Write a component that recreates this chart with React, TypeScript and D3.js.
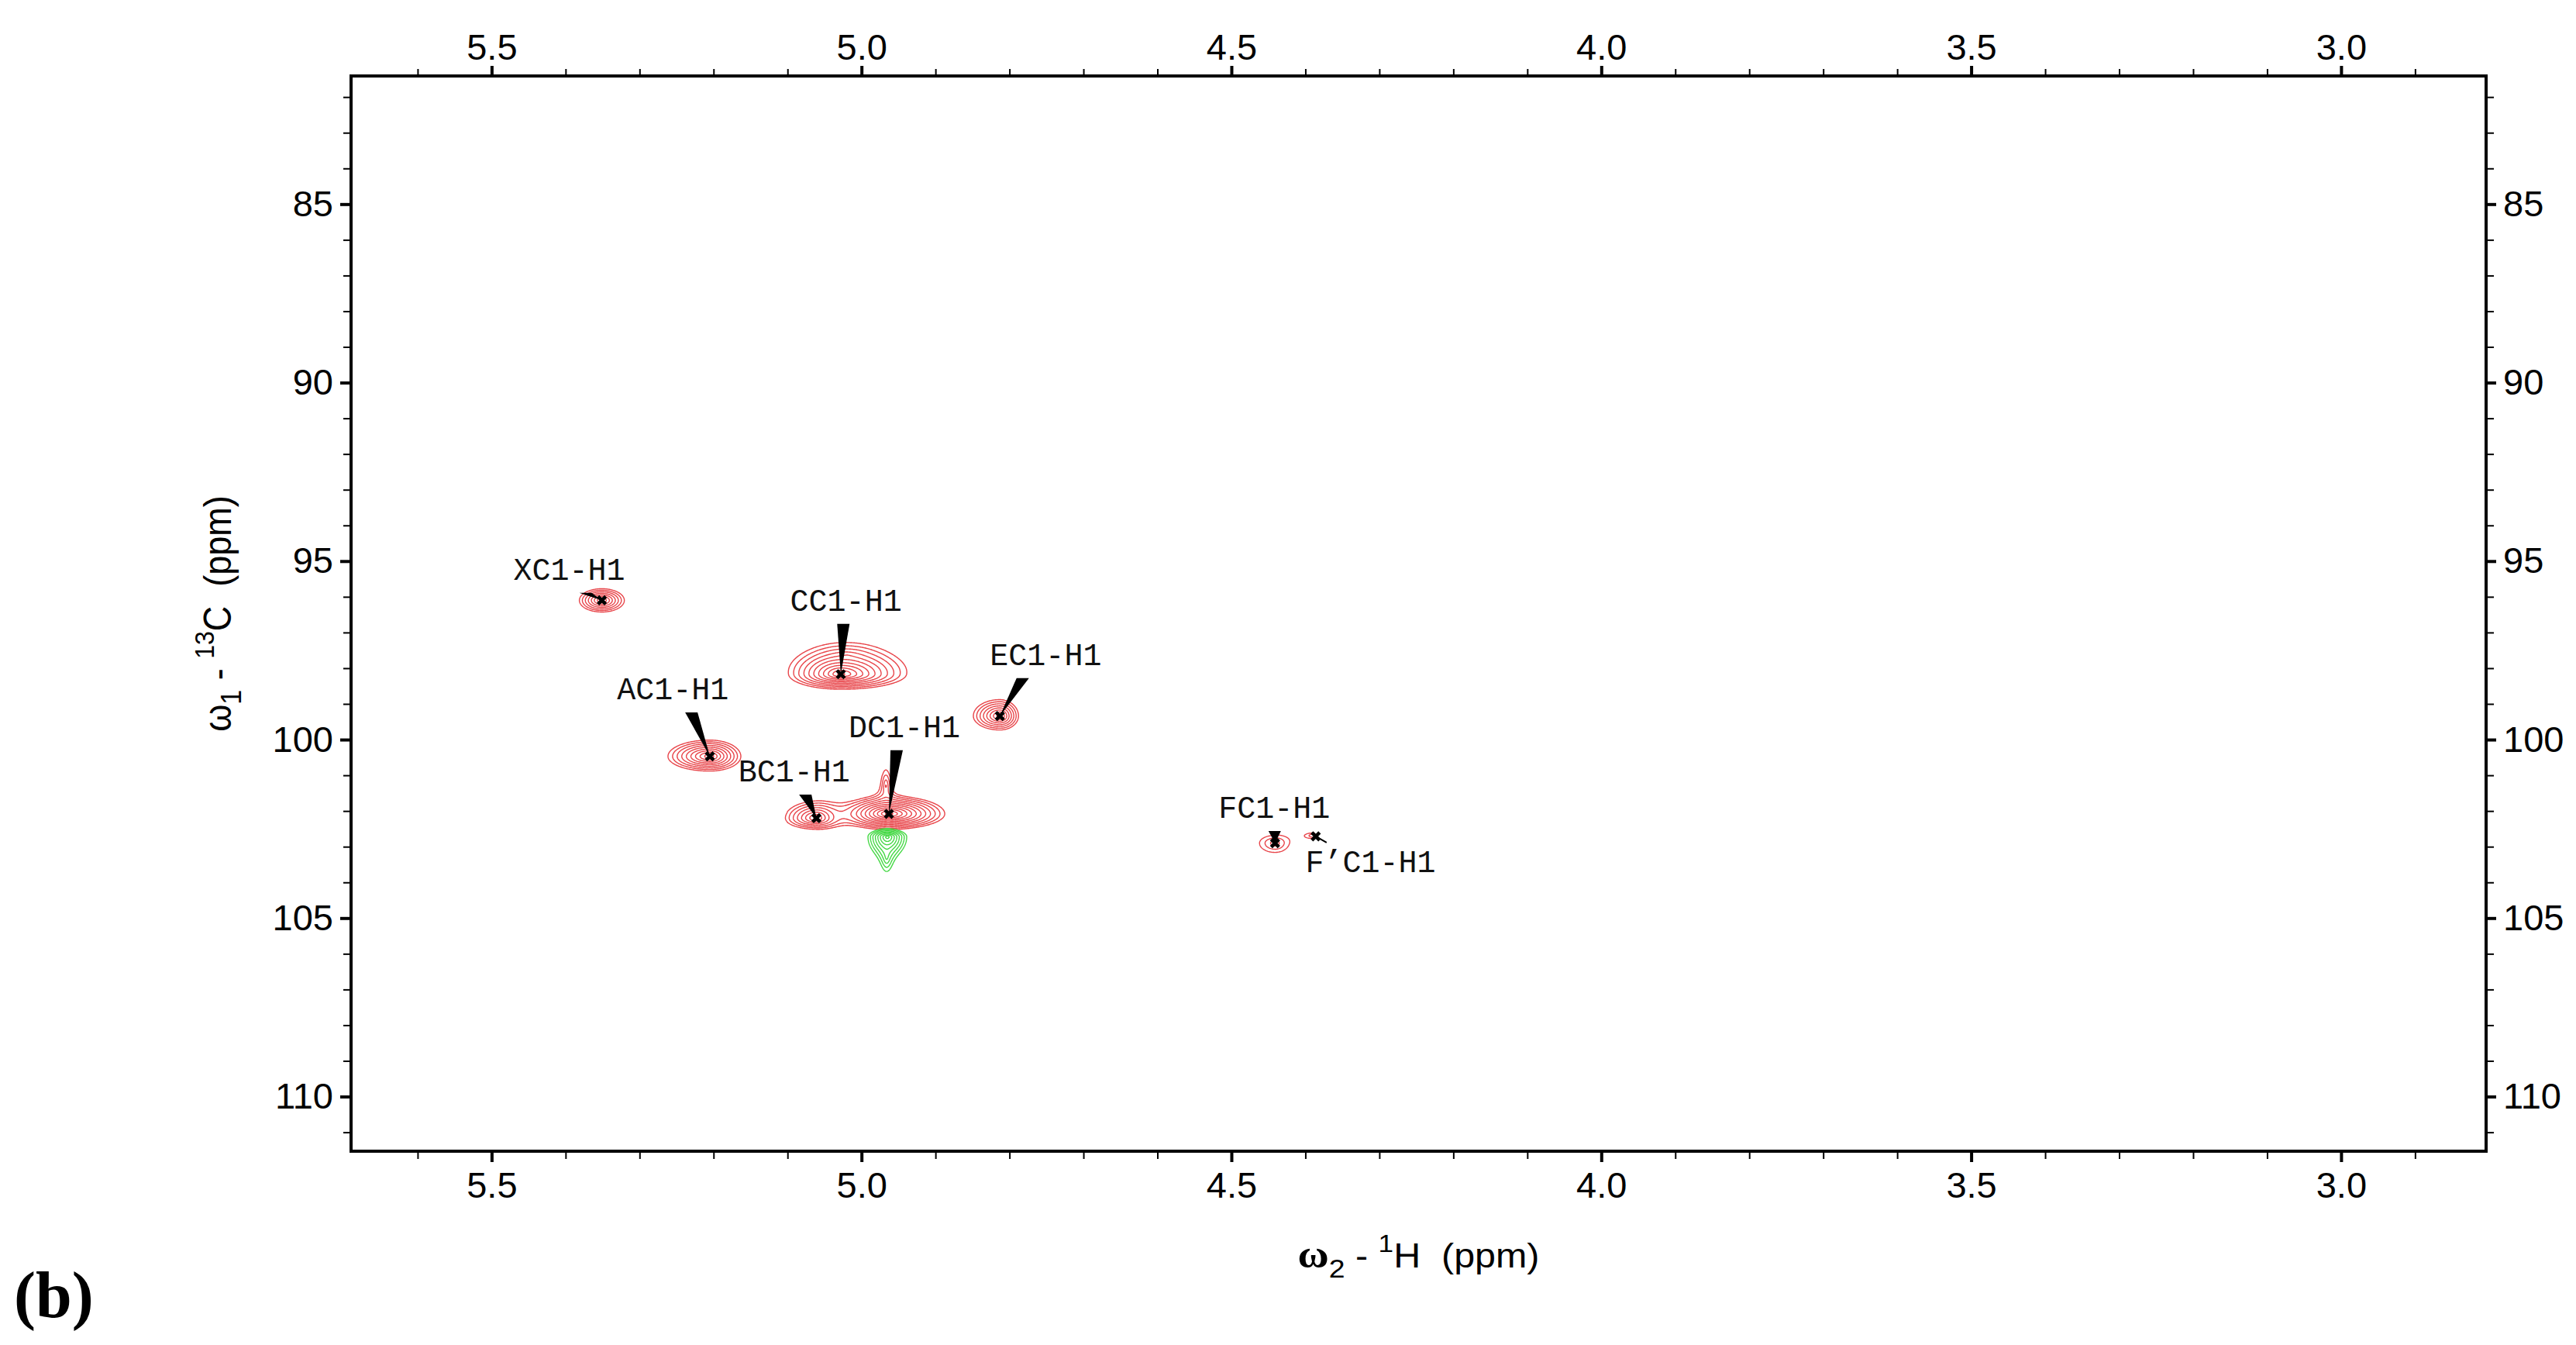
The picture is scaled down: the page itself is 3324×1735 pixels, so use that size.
import React, { useEffect, useRef } from "react";
import * as d3 from "d3";

const width = 3324;
const height = 1735;
const plot = { left: 453, right: 3208, top: 98, bottom: 1485 };

// axis ranges (ppm), 1H runs right-to-left
const protonRange = [5.69, 2.804];
const carbonRange = [81.41, 111.53];
const protonTicks = [5.5, 5.0, 4.5, 4.0, 3.5, 3.0];
const carbonTicks = [85, 90, 95, 100, 105, 110];

// assigned anomeric cross peaks
const peakLabels = ["XC1-H1", "CC1-H1", "AC1-H1", "BC1-H1", "DC1-H1", "EC1-H1", "FC1-H1", "F\u2019C1-H1"];
const peakH = [5.351, 5.028, 5.205, 5.061, 4.963, 4.813, 4.441, 4.386];
const peakC = [96.1, 98.17, 100.47, 102.2, 102.08, 99.34, 102.9, 102.71];
const labelH = [5.395, 5.021, 5.255, 5.091, 4.942, 4.751, 4.442, 4.312];
const labelC = [95.52, 96.39, 98.87, 101.17, 99.93, 97.91, 102.19, 103.71];

// positive (red) contour components: centre, height, outer-contour half widths
const redH = [5.351, 5.028, 5.205, 5.061, 4.963, 4.813, 4.441, 4.389, 4.967, 5.019];
const redC = [96.1, 98.17, 100.47, 102.2, 102.08, 99.34, 102.9, 102.69, 101.3, 97.63];
const redAmp = [7.2, 16, 11, 7.2, 22, 8, 2.1, 1.6, 2.2, 1.3];
const redWL = [0.0304, 0.065, 0.0566, 0.0419, 0.0639, 0.0356, 0.021, 0.0065, 0.0063, 0.0147];
const redWR = [0.0304, 0.0818, 0.0419, 0.0314, 0.0755, 0.0252, 0.0178, 0.002, 0.0063, 0.0147];
const redWU = [0.326, 0.651, 0.456, 0.456, 0.499, 0.456, 0.217, 0.05, 0.45, 0.13];
const redWD = [0.326, 0.391, 0.412, 0.304, 0.434, 0.391, 0.26, 0.05, 0.3, 0.13];

// negative (green) contour components
const greenH = [4.965, 4.966];
const greenC = [102.72, 103.3];
const greenAmp = [7, 1.8];
const greenWL = [0.0252, 0.0052];
const greenWR = [0.0252, 0.0052];
const greenWU = [0.195, 0.26];
const greenWD = [0.5, 0.304];

const contourLevels = [1, 1.3, 1.69, 2.2, 2.86, 3.71, 4.83, 6.27, 8.16, 10.6, 13.8, 17.9];

const grid = { h0: 5.45, h1: 4.33, c0: 95.2, c1: 104.3, nx: 1200, ny: 450 };

function buildField(hs, cs, amps, wl, wr, wu, wd) {
  const { h0, h1, c0, c1, nx, ny } = grid;
  const dh = (h0 - h1) / nx;
  const dc = (c1 - c0) / ny;
  const values = new Float64Array(nx * ny);
  hs.forEach((hc, k) => {
    const a = amps[k];
    // outer contour (level 1) sits at the given half widths
    const norm = Math.log(a);
    const sl = wl[k] / norm;
    const sr = wr[k] / norm;
    const su = wu[k] / norm;
    const sd = wd[k] / norm;
    const reach = Math.log(a / 0.03);
    const iMin = Math.max(0, Math.floor((h0 - (hc + reach * sl)) / dh));
    const iMax = Math.min(nx - 1, Math.ceil((h0 - (hc - reach * sr)) / dh));
    const jMin = Math.max(0, Math.floor((cs[k] - reach * su - c0) / dc));
    const jMax = Math.min(ny - 1, Math.ceil((cs[k] + reach * sd - c0) / dc));
    for (let j = jMin; j <= jMax; j++) {
      const dy = c0 + j * dc - cs[k];
      const ty = dy / (dy < 0 ? su : sd);
      for (let i = iMin; i <= iMax; i++) {
        const dx = h0 - i * dh - hc;
        const tx = dx / (dx > 0 ? sl : sr);
        values[j * nx + i] += a * Math.exp(-Math.sqrt(tx * tx + ty * ty));
      }
    }
  });
  return values;
}

function styleAxis(g, major) {
  g.select(".domain").remove();
  g.selectAll("line")
    .attr("stroke", "#000")
    .attr("stroke-width", major ? 4 : 2);
  g.selectAll("text")
    .attr("fill", "#000")
    .style("font-family", "'Liberation Sans', Arial, sans-serif")
    .style("font-size", "47px");
}

const App = () => {
  const ref = useRef(null);

  useEffect(() => {
    document.body.style.margin = "0";
    const svg = d3.select(ref.current);
    svg.selectAll("*").remove();

    const x = d3.scaleLinear().domain(protonRange).range([plot.left, plot.right]);
    const y = d3.scaleLinear().domain(carbonRange).range([plot.top, plot.bottom]);

    const minorH = d3
      .range(29, 57)
      .map((v) => v / 10)
      .filter((v) => !protonTicks.some((t) => Math.abs(t - v) < 1e-6));
    const minorC = d3.range(82, 112).filter((v) => v % 5 !== 0);

    // contours
    const { h0, h1, c0, c1, nx, ny } = grid;
    const dh = (h0 - h1) / nx;
    const dc = (c1 - c0) / ny;
    const proj = d3.geoTransform({
      point: function (px, py) {
        this.stream.point(x(h0 - (px - 0.5) * dh), y(c0 + (py - 0.5) * dc));
      },
    });
    const path = d3.geoPath(proj);
    const contours = d3.contours().size([nx, ny]).thresholds(contourLevels);

    const redField = buildField(redH, redC, redAmp, redWL, redWR, redWU, redWD);
    svg
      .append("g")
      .selectAll("path")
      .data(contours(redField))
      .enter()
      .append("path")
      .attr("d", path)
      .attr("fill", "none")
      .attr("stroke", "#e8454a")
      .attr("stroke-width", 1.4);

    const greenField = buildField(greenH, greenC, greenAmp, greenWL, greenWR, greenWU, greenWD);
    svg
      .append("g")
      .selectAll("path")
      .data(contours(greenField))
      .enter()
      .append("path")
      .attr("d", path)
      .attr("fill", "none")
      .attr("stroke", "#44d844")
      .attr("stroke-width", 1.4);

    // peak labels, wedges and markers
    const ann = svg.append("g");
    peakLabels.forEach((name, i) => {
      const px = x(peakH[i]);
      const py = y(peakC[i]);
      const lx = x(labelH[i]);
      const ly = y(labelC[i]);
      if (ly < py) {
        const bx = (lx + px) / 2;
        const by = ly + 17;
        ann
          .append("path")
          .attr("d", `M${bx - 8},${by}L${bx + 8},${by}L${px},${py}Z`)
          .attr("fill", "#000");
      } else {
        ann
          .append("line")
          .attr("x1", px)
          .attr("y1", py)
          .attr("x2", px + 14)
          .attr("y2", py + 8)
          .attr("stroke", "#000")
          .attr("stroke-width", 2);
      }
      ann
        .append("path")
        .attr("d", `M${px - 5},${py - 5}L${px + 5},${py + 5}M${px - 5},${py + 5}L${px + 5},${py - 5}`)
        .attr("stroke", "#000")
        .attr("stroke-width", 4.5);
      ann
        .append("text")
        .attr("x", lx)
        .attr("y", ly)
        .attr("text-anchor", "middle")
        .style("font-family", "'Liberation Mono', 'Courier New', monospace")
        .style("font-size", "40px")
        .attr("fill", "#111")
        .text(name);
    });

    // axes
    const axes = [
      [d3.axisBottom(x).tickValues(protonTicks).tickSize(14).tickPadding(13).tickFormat(d3.format(".1f")), `translate(0,${plot.bottom})`, true],
      [d3.axisBottom(x).tickValues(minorH).tickSize(10).tickFormat(() => ""), `translate(0,${plot.bottom})`, false],
      [d3.axisTop(x).tickValues(protonTicks).tickSize(13).tickPadding(8).tickFormat(d3.format(".1f")), `translate(0,${plot.top})`, true],
      [d3.axisTop(x).tickValues(minorH).tickSize(9).tickFormat(() => ""), `translate(0,${plot.top})`, false],
      [d3.axisLeft(y).tickValues(carbonTicks).tickSize(14).tickPadding(9), `translate(${plot.left},0)`, true],
      [d3.axisLeft(y).tickValues(minorC).tickSize(10).tickFormat(() => ""), `translate(${plot.left},0)`, false],
      [d3.axisRight(y).tickValues(carbonTicks).tickSize(13).tickPadding(9), `translate(${plot.right},0)`, true],
      [d3.axisRight(y).tickValues(minorC).tickSize(10).tickFormat(() => ""), `translate(${plot.right},0)`, false],
    ];
    axes.forEach(([axis, tr, major]) => {
      svg.append("g").attr("transform", tr).call(axis).call((g) => styleAxis(g, major));
    });

    svg
      .append("rect")
      .attr("x", plot.left)
      .attr("y", plot.top)
      .attr("width", plot.right - plot.left)
      .attr("height", plot.bottom - plot.top)
      .attr("fill", "none")
      .attr("stroke", "#000")
      .attr("stroke-width", 4);

    // x axis title
    const xt = svg
      .append("text")
      .attr("transform", `translate(${(plot.left + plot.right) / 2},1635) scale(1.1,1)`)
      .attr("text-anchor", "middle")
      .style("font-family", "'Liberation Sans', Arial, sans-serif")
      .style("font-size", "44px")
      .style("white-space", "pre")
      .attr("fill", "#000");
    xt.append("tspan").style("font-family", "'Liberation Serif', serif").style("font-weight", "bold").style("font-size", "50px").text("\u03c9");
    xt.append("tspan").attr("dy", 13).style("font-size", "34px").text("2");
    xt.append("tspan").attr("dy", -13).text(" - ");
    xt.append("tspan").attr("dy", -20).style("font-size", "32px").text("1");
    xt.append("tspan").attr("dy", 20).text("H  (ppm)");

    // y axis title
    const yt = svg
      .append("text")
      .attr("transform", `translate(298,${(plot.top + plot.bottom) / 2}) rotate(-90) scale(1,1.1)`)
      .attr("text-anchor", "middle")
      .style("font-family", "'Liberation Sans', Arial, sans-serif")
      .style("font-size", "45px")
      .style("white-space", "pre")
      .attr("fill", "#000");
    yt.append("tspan").text("\u03c9");
    yt.append("tspan").attr("dy", 12).style("font-size", "34px").text("1");
    yt.append("tspan").attr("dy", -12).text(" - ");
    yt.append("tspan").attr("dy", -20).style("font-size", "32px").text("13");
    yt.append("tspan").attr("dy", 20).text("C  (ppm)");

    svg
      .append("text")
      .attr("x", 18)
      .attr("y", 1699)
      .style("font-family", "'Liberation Serif', 'Times New Roman', serif")
      .style("font-weight", "bold")
      .style("font-size", "84px")
      .attr("fill", "#000")
      .text("(b)");
  }, []);

  return (
    <svg
      ref={ref}
      width={width}
      height={height}
      style={{ position: "absolute", left: 0, top: 0, background: "#fff" }}
    />
  );
};

export default App;
